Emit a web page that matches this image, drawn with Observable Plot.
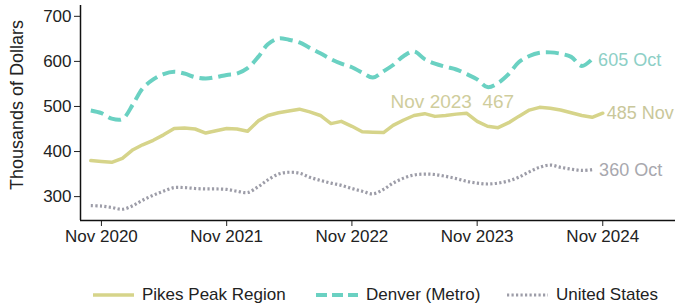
<!DOCTYPE html>
<html><head><meta charset="utf-8">
<script src="https://cdn.jsdelivr.net/npm/d3@7"></script>
<script src="https://cdn.jsdelivr.net/npm/@observablehq/plot@0.6"></script>
<style>
body{margin:0;background:#fff;font-family:"Liberation Sans",Arial,sans-serif}
#chart{position:relative;width:679px;background:#fff}
.legend{position:relative;height:43px;font-size:17px;color:#222}
.item{position:absolute;top:23px;display:flex;align-items:center;height:20px;white-space:nowrap}
.item svg{margin-right:8px}
</style></head><body><div id="chart"></div>
<script>
const seriesNames = ["Pikes Peak Region", "Denver (Metro)", "United States"];
const seriesColors = ["#d6d48a", "#6ad1c2", "#9d9da8"];
const labelColors = ["#c9c79a", "#8dcfc6", "#a8a8ae"];
const startMonth = "2020-10-01";
const pikesValues = [380,378,376,
  385,404,415,425,437,451,452,450,441,446,451,450,
  445,468,480,486,490,494,488,480,462,467,456,444,
  443,442,458,470,480,484,478,480,483,485,467,456,
  453,464,478,492,498,496,492,486,480,476,485];
const denverValues = [491,485,473,
  472,505,540,560,572,577,573,565,562,565,570,573,
  585,610,638,651,648,642,630,618,605,595,587,575,
  564,578,592,612,622,605,595,588,582,572,560,543,
  552,572,598,612,619,620,617,610,590,605];
const usValues = [280,279,276,
  272,280,292,303,312,320,320,318,317,317,316,312,
  309,322,337,350,354,352,343,336,330,325,318,312,
  306,316,330,341,348,350,349,345,340,334,330,328,
  330,335,343,355,365,370,365,361,358,360];
const yTicks = [300,400,500,600,700];
const xTickLabels = ["Nov 2020","Nov 2021","Nov 2022","Nov 2023","Nov 2024"];
const yDomain = [247, 724];
const xDomain = ["2020-09-01", "2025-06-01"];
const yTitle = "Thousands of Dollars";
const annotation = {date: "2023-11-01", value: 467, label: "Nov 2023"};

const parse = d3.utcParse("%Y-%m-%d");
const s0 = parse(startMonth);
const toRows = vals => vals.map((v, i) => ({date: d3.utcMonth.offset(s0, i), value: v}));
const pikes = toRows(pikesValues), denver = toRows(denverValues), us = toRows(usValues);
const xTicks = xTickLabels.map(d3.utcParse("%b %Y"));
const fmtMon = d3.utcFormat("%b");
const font = "Liberation Sans, Arial, sans-serif";

const chart = Plot.plot({
  width: 679, height: 262,
  marginLeft: 80, marginRight: 4, marginTop: 5, marginBottom: 42,
  style: {fontFamily: font, fontSize: "17px", color: "#222", background: "#fff"},
  x: {type: "utc", domain: xDomain.map(parse)},
  y: {domain: yDomain},
  marks: [
    Plot.axisY({ticks: yTicks, tickSize: 6, tickPadding: 3, label: null, fontSize: 17, stroke: "#222"}),
    Plot.axisX({ticks: xTicks, tickFormat: d3.utcFormat("%b %Y"), tickSize: 6, tickPadding: 3, label: null, fontSize: 17, stroke: "#222"}),
    Plot.ruleX([parse(xDomain[0])], {stroke: "#111", strokeWidth: 1.5}),
    Plot.ruleY([yDomain[0]], {stroke: "#111", strokeWidth: 1.5}),
    Plot.text([yTitle], {frameAnchor: "left", textAnchor: "middle", dx: -63, dy: -8, rotate: -90, fontSize: 18, fill: "#222", text: d => d}),
    Plot.line(us, {x: "date", y: "value", stroke: seriesColors[2], strokeWidth: 3.2, strokeDasharray: "2.2,2.3", strokeLinecap: "butt", curve: "catmull-rom"}),
    Plot.line(pikes, {x: "date", y: "value", stroke: seriesColors[0], strokeWidth: 3.5, curve: "linear"}),
    Plot.line(denver, {x: "date", y: "value", stroke: seriesColors[1], strokeWidth: 4, strokeDasharray: "13,6", strokeLinecap: "butt", curve: "catmull-rom"}),
    Plot.text([denver.at(-1)], {x: "date", y: "value", text: d => `${d.value} ${fmtMon(d.date)}`, textAnchor: "start", dx: 6, dy: 1, fill: labelColors[1], fontSize: 18}),
    Plot.text([pikes.at(-1)], {x: "date", y: "value", text: d => `${d.value} ${fmtMon(d.date)}`, textAnchor: "start", dx: 4, dy: 0, fill: labelColors[0], fontSize: 18}),
    Plot.text([us.at(-1)], {x: "date", y: "value", text: d => `${d.value} ${fmtMon(d.date)}`, textAnchor: "start", dx: 7, dy: 1, fill: labelColors[2], fontSize: 18}),
    Plot.text([annotation], {x: d => parse(d.date), y: "value", text: d => `${d.label}\u00a0\u00a0${d.value}`, textAnchor: "end", dx: 37, dy: -19, fill: "#cfcd9c", fontSize: 19})
  ]
});
const root = document.getElementById("chart");
root.appendChild(chart);

const legend = document.createElement("div");
legend.className = "legend";
const lefts = [93, 316, 507];
const dashes = ["none", "11,5", "2.2,2.3"];
const widths = [3.5, 4, 3.2];
seriesNames.forEach((name, i) => {
  const it = document.createElement("div");
  it.className = "item";
  it.style.left = lefts[i] + "px";
  const sw = i === 1 ? 42 : 41;
  it.innerHTML = `<svg width="${sw}" height="8"><line x1="0" y1="4" x2="${sw}" y2="4" stroke="${seriesColors[i]}" stroke-width="${widths[i]}" stroke-dasharray="${dashes[i]}"/></svg><span>${name}</span>`;
  legend.appendChild(it);
});
root.appendChild(legend);
</script></body></html>
